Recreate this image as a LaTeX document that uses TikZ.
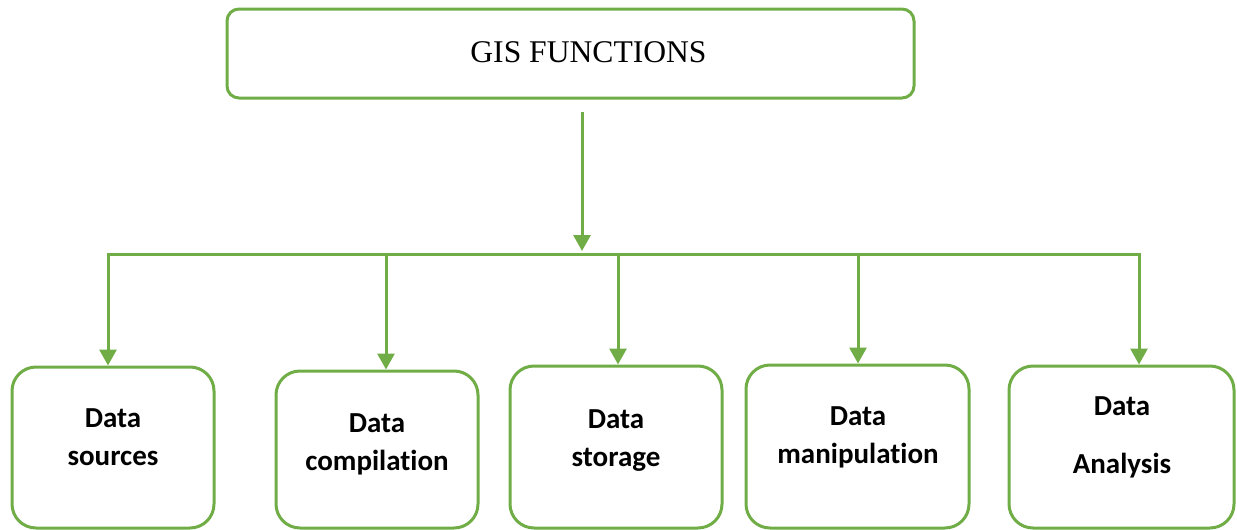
\documentclass[tikz,border=0pt]{standalone}
\usepackage{fontspec}
\setmainfont{Liberation Serif}
\newfontfamily\boxfont[Ligatures=NoCommon]{Carlito}
\usepackage{tikz}
\usetikzlibrary{arrows.meta,positioning}
\definecolor{leaf}{HTML}{70AD47}

\begin{document}
\begin{tikzpicture}[x=0.5pt, y=-0.5pt,
  every node/.style={inner sep=0pt},
  fnbox/.style={draw=leaf, line width=1.5pt, rounded corners=12pt},
  fntext/.style={anchor=north, align=center, font=\boxfont\bfseries\fontsize{14.5}{19}\selectfont},
  flow/.style={draw=leaf, line width=1.5pt, -{Triangle[width=8.5pt,length=8pt]}},
  bus/.style={draw=leaf, line width=1.5pt, line cap=rect}]
\useasboundingbox (0,0) rectangle (1237,530);
\node[fnbox, rounded corners=6pt, minimum width=343.5pt, minimum height=44.5pt] (gis) at (570.5,53.5) {};
\node[font=\fontsize{15.8}{18}\selectfont] (gist) at (588.5,52) {GIS FUNCTIONS};
\node[fnbox, minimum width=101pt, minimum height=80.5pt] (src) at (113,447.5) {};
\node[fnbox, minimum width=101pt, minimum height=78.5pt] (cmp) at (377,449.5) {};
\node[fnbox, minimum width=106pt, minimum height=81pt] (sto) at (616,447) {};
\node[fnbox, minimum width=111.5pt, minimum height=81.5pt] (man) at (857.5,446.5) {};
\node[fnbox, minimum width=112.5pt, minimum height=81pt] (ana) at (1121.5,447) {};
\node[fntext] (srct) at (113,408) {Data\\sources};
\node[fntext] (cmpt) at (377,413) {Data\\compilation};
\node[fntext] (stot) at (616,409) {Data\\storage};
\node[fntext] (mant) at (858,406) {Data\\manipulation};
\node[fntext] (anat) at (1122,396) {Data\\[10pt]Analysis};
\coordinate (gisout) at (582,112);
\coordinate (hub) at (582,251);
\draw[flow] (gisout) -- (hub);
\foreach \n/\x in {src/108,cmp/386,sto/618,man/858,ana/1139}{
  \coordinate (tap-\n) at (\x,254);
  \draw[flow] (tap-\n) -- (tap-\n |- \n.north);
}
\draw[bus] (tap-src) -- (tap-ana);
\end{tikzpicture}
\end{document}
